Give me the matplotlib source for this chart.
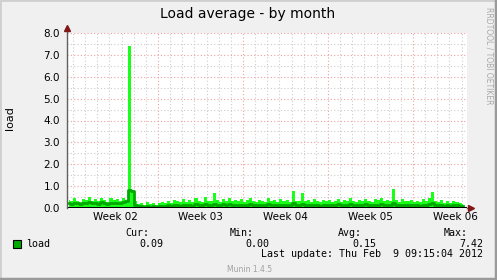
import matplotlib
matplotlib.use("Agg")
import matplotlib.pyplot as plt
from matplotlib.patches import Rectangle
import numpy as np

# sampled every 6 hours, day 0 .. 32.5 of the month window
step_days = 0.25
max_load = [
    0.38, 0.30, 0.45, 0.33, 0.28, 0.41, 0.36, 0.50,
    0.34, 0.42, 0.31, 0.47, 0.38, 0.29, 0.44, 0.35,
    0.40, 0.33, 0.48, 0.37, 7.42, 0.72, 0.30, 0.18,
    0.22, 0.15, 0.27, 0.19, 0.24, 0.16, 0.21, 0.28,
    0.25, 0.33, 0.22, 0.38, 0.30, 0.27, 0.41, 0.29,
    0.35, 0.26, 0.45, 0.31, 0.28, 0.52, 0.34, 0.30,
    0.68, 0.36, 0.29, 0.43, 0.33, 0.48, 0.31, 0.37,
    0.30, 0.42, 0.27, 0.35, 0.46, 0.32, 0.29, 0.38,
    0.33, 0.27, 0.44, 0.30, 0.36, 0.28, 0.41, 0.32,
    0.35, 0.29, 0.78, 0.34, 0.31, 0.67, 0.30, 0.37,
    0.28, 0.40, 0.33, 0.26, 0.38, 0.31, 0.35, 0.27,
    0.32, 0.42, 0.29, 0.36, 0.30, 0.45, 0.33, 0.28,
    0.38, 0.31, 0.43, 0.34, 0.29, 0.40, 0.35, 0.47,
    0.32, 0.38, 0.30, 0.87, 0.36, 0.29, 0.41, 0.33,
    0.30, 0.37, 0.28, 0.34, 0.26, 0.39, 0.31, 0.45,
    0.72, 0.33, 0.27, 0.36, 0.22, 0.30, 0.25, 0.33,
    0.28, 0.24, 0.20,
]
avg_load = [
    0.22, 0.20, 0.25, 0.21, 0.19, 0.24, 0.22, 0.27,
    0.23, 0.25, 0.20, 0.26, 0.24, 0.19, 0.25, 0.22,
    0.24, 0.21, 0.27, 0.30, 0.82, 0.78, 0.12, 0.07,
    0.08, 0.05, 0.09, 0.06, 0.08, 0.05, 0.07, 0.10,
    0.09, 0.12, 0.10, 0.14, 0.12, 0.11, 0.15, 0.12,
    0.14, 0.11, 0.17, 0.13, 0.12, 0.18, 0.14, 0.13,
    0.20, 0.15, 0.12, 0.17, 0.14, 0.18, 0.13, 0.15,
    0.13, 0.16, 0.12, 0.15, 0.18, 0.14, 0.12, 0.16,
    0.14, 0.12, 0.17, 0.13, 0.15, 0.12, 0.16, 0.14,
    0.15, 0.13, 0.22, 0.15, 0.13, 0.20, 0.13, 0.16,
    0.12, 0.16, 0.14, 0.11, 0.15, 0.13, 0.15, 0.12,
    0.14, 0.17, 0.13, 0.15, 0.13, 0.18, 0.14, 0.12,
    0.16, 0.13, 0.17, 0.14, 0.12, 0.16, 0.15, 0.19,
    0.14, 0.16, 0.13, 0.25, 0.15, 0.12, 0.16, 0.14,
    0.13, 0.15, 0.12, 0.14, 0.11, 0.16, 0.13, 0.17,
    0.22, 0.14, 0.12, 0.15, 0.10, 0.13, 0.11, 0.14,
    0.12, 0.10, 0.09,
]
week_labels = ["Week 02", "Week 03", "Week 04", "Week 05", "Week 06"]
week_centers = [4, 11, 18, 25, 32]
week_starts = [7.5, 14.5, 21.5, 28.5]
y_ticks = [0, 1, 2, 3, 4, 5, 6, 7, 8]
stats = {"Cur:": "0.09", "Min:": "0.00", "Avg:": "0.15", "Max:": "7.42"}

W, H = 497, 280
fig = plt.figure(figsize=(W / 100, H / 100), dpi=100, facecolor="#f0f0f0")

# outer 3d-ish frame
fig.patches.append(Rectangle((0, 0), 1, 1, transform=fig.transFigure,
                             fill=False, edgecolor="#cfcfcf", lw=2, zorder=0))
fig.add_artist(plt.Line2D([0, 1], [1.5 / H, 1.5 / H], color="#9a9a9a", lw=2.5))
fig.add_artist(plt.Line2D([1 - 1.5 / W, 1 - 1.5 / W], [0, 1], color="#9a9a9a", lw=2.5))

x0, x1, ytop, ybot = 67, 467, 33, 208
ax = fig.add_axes([x0 / W, (H - ybot) / H, (x1 - x0) / W, (ybot - ytop) / H])
ax.set_facecolor("white")
xmax = (x1 - x0) / 12.14
ax.set_xlim(0, xmax)
ax.set_ylim(0, 8)
for s in ax.spines.values():
    s.set_visible(False)

# grid
for d in np.arange(0.5, xmax, 1.0):
    red = any(abs(d - w) < 1e-6 for w in week_starts)
    ax.axvline(d, color="#f0a0a0" if red else "#cccccc", lw=0.8,
               ls=(0, (1, 2)), zorder=1)
for v in np.arange(0.5, 8.01, 0.5):
    red = abs(v - round(v)) < 1e-6
    ax.axhline(v, color="#f0a0a0" if red else "#cccccc", lw=0.8,
               ls=(0, (1, 2)), zorder=1)

t = np.arange(len(max_load)) * step_days + step_days / 2
ax.fill_between(t, 0, max_load, step="mid", color="#1aff1a", lw=0, zorder=2)
ax.plot(t, avg_load, color="#00a800", lw=2.0, drawstyle="steps-mid", zorder=3)
ax.plot([0, xmax], [0, 0], color="black", lw=2.2, zorder=4, solid_capstyle="butt")

# axes lines and arrows
ax.plot([0, 0], [0, 1.03], transform=ax.transAxes, color="#606060", lw=1,
        clip_on=False, zorder=5)
ax.plot([0], [1.03], transform=ax.transAxes, marker="^", color="#801818",
        ms=4.5, clip_on=False, zorder=6)
ax.plot([1.0, 1.01], [0, 0], transform=ax.transAxes, color="#606060", lw=1,
        clip_on=False, zorder=5)
ax.plot([1.01], [0], transform=ax.transAxes, marker=">", color="#801818",
        ms=4.5, clip_on=False, zorder=6)

ax.set_yticks(y_ticks)
ax.set_yticklabels([f"{v:.1f}" for v in y_ticks], fontsize=7.5)
ax.set_xticks(week_centers)
ax.set_xticklabels(week_labels, fontsize=7.5)
ax.tick_params(length=0)
ax.tick_params(axis="y", pad=5)
ax.tick_params(axis="x", pad=3)

fig.text(248 / W, 1 - 14 / H, "Load average - by month", ha="center", va="center",
         fontsize=10)
fig.text(10 / W, 1 - 118 / H, "load", rotation=90, ha="center", va="center",
         fontsize=8)
fig.text(489 / W, 1 - 56 / H, "RRDTOOL / TOBI OETIKER", rotation=270,
         ha="center", va="center", fontsize=5.5, color="#a8a8a8")

mono = "DejaVu Sans Mono"
fs = 7.2
fig.patches.append(Rectangle((13 / W, 1 - 248 / H), 8 / W, 8 / H,
                             transform=fig.transFigure, facecolor="#00aa00",
                             edgecolor="black", lw=0.8))
fig.text(26 / W, 1 - 244 / H, "load", family=mono, fontsize=fs, va="center")
head_right = [149, 254, 362, 468]
val_right = [163, 269, 376, 483]
for (k, v), hr, vr in zip(stats.items(), head_right, val_right):
    fig.text(hr / W, 1 - 233 / H, k, family=mono, fontsize=fs, ha="right", va="center")
    fig.text(vr / W, 1 - 244 / H, v, family=mono, fontsize=fs, ha="right", va="center")
fig.text(483 / W, 1 - 254 / H, "Last update: Thu Feb  9 09:15:04 2012",
         family=mono, fontsize=fs, ha="right", va="center")
fig.text(250 / W, 1 - 269 / H, "Munin 1.4.5", fontsize=5.5, color="#a0a0a0",
         ha="center", va="center")

fig.savefig("out.png", dpi=100, facecolor=fig.get_facecolor())
